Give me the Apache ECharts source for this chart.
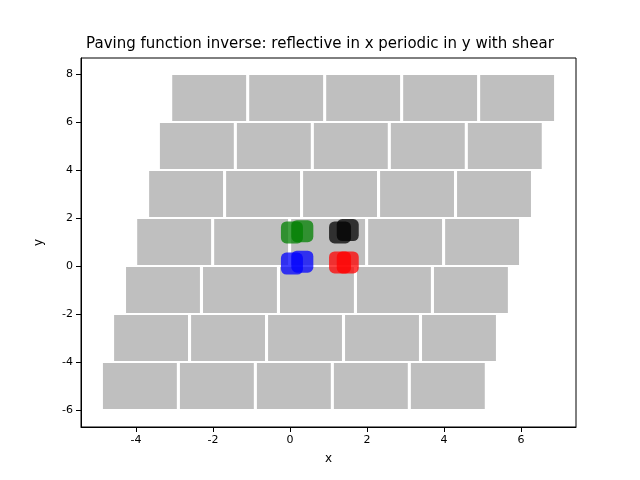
<!DOCTYPE html><html><head><meta charset="utf-8"><script src="https://cdn.jsdelivr.net/npm/echarts@6/dist/echarts.min.js"></script></head><body style="margin:0"><div id="c" style="width:640px;height:480px"></div><script>
const rowY=[-6,-4,-2,0,2,4,6];
const rowStart=[-4.86,-4.57,-4.26,-3.97,-3.66,-3.38,-3.06];
const tileW=1.92, tileH=1.92;
const blue=[[0.05,0.1],[0.32,0.18]];
const green=[[0.05,1.4],[0.32,1.45]];
const black=[[1.3,1.4],[1.5,1.5]];
const red=[[1.3,0.15],[1.5,0.15]];
const tiles=[];
rowY.forEach((y,i)=>{for(let k=0;k<5;k++)tiles.push([rowStart[i]+2*k,y+0.04]);});
const ch=echarts.init(document.getElementById('c'));
function sc(d,c){return{type:'scatter',data:d,symbol:'roundRect',symbolSize:22,itemStyle:{color:c,opacity:0.75},z:5};}
ch.setOption({
title:{text:'Paving function inverse: reflective in x periodic in y with shear',left:'center',top:32,textStyle:{fontFamily:'DejaVu Sans',fontSize:15,fontWeight:'normal',color:'#000'}},
grid:{left:81,right:64,top:58,bottom:53},
xAxis:{type:'value',min:-5.43,max:7.43,interval:2,axisLine:{onZero:false,lineStyle:{color:'#000'}},splitLine:{show:false},axisTick:{lineStyle:{color:'#000'}},axisLabel:{color:'#000',fontFamily:'DejaVu Sans',fontSize:11,customValues:[-4,-2,0,2,4,6]},axisTick:{customValues:[-4,-2,0,2,4,6]},name:'x',nameLocation:'middle',nameGap:26,nameTextStyle:{color:'#000',fontFamily:'DejaVu Sans',fontSize:12}},
yAxis:{type:'value',min:-6.71,max:8.67,axisLine:{show:true,onZero:false,lineStyle:{color:'#000'}},splitLine:{show:false},axisTick:{show:true,customValues:[-6,-4,-2,0,2,4,6,8]},axisLabel:{color:'#000',fontFamily:'DejaVu Sans',fontSize:11,customValues:[-6,-4,-2,0,2,4,6,8]},name:'y',nameLocation:'middle',nameGap:36,nameTextStyle:{color:'#000',fontFamily:'DejaVu Sans',fontSize:12}},
series:[{type:'custom',data:tiles,renderItem:(p,api)=>{const a=api.coord([api.value(0),api.value(1)]),b=api.coord([api.value(0)+tileW,api.value(1)+tileH]);return{type:'rect',shape:{x:a[0],y:b[1],width:b[0]-a[0],height:a[1]-b[1]},style:{fill:'#bfbfbf'}};},z:1},
sc(blue,'#0000ff'),sc(green,'#008000'),sc(black,'#000'),sc(red,'#ff0000')]
});
ch.getZr().add(new echarts.graphic.Rect({shape:{x:81,y:58,width:495,height:369},style:{fill:'none',stroke:'#000',lineWidth:1},z:100}));
</script></body></html>
